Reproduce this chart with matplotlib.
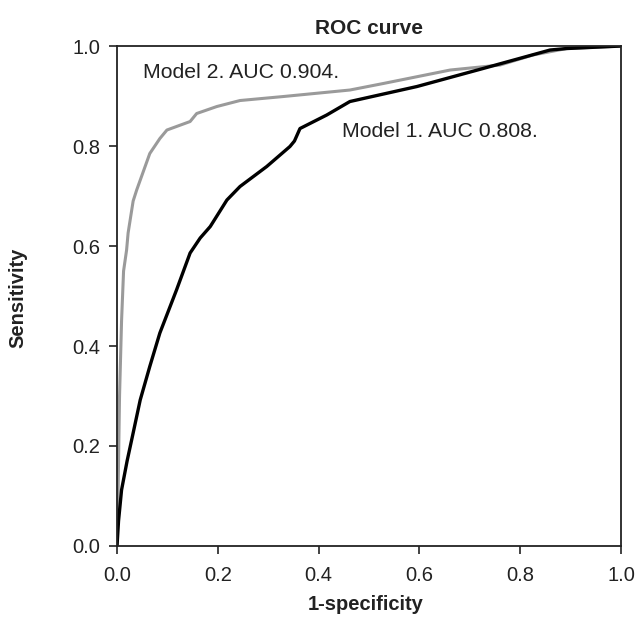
import matplotlib
matplotlib.use("Agg")
import matplotlib.pyplot as plt

plt.rcParams['font.family'] = ['Liberation Sans', 'DejaVu Sans']

model1_fpr = [0.0, 0.003, 0.009, 0.02, 0.032, 0.046, 0.065, 0.085, 0.118, 0.145, 0.165, 0.185,
              0.218, 0.244, 0.297, 0.343, 0.352, 0.363, 0.416, 0.462, 0.595, 0.726, 0.859, 0.892, 1.0]
model1_tpr = [0.0, 0.05, 0.112, 0.17, 0.226, 0.292, 0.359, 0.426, 0.512, 0.586, 0.616, 0.639,
              0.692, 0.719, 0.759, 0.799, 0.81, 0.835, 0.862, 0.889, 0.919, 0.955, 0.992, 0.995, 1.0]

model2_fpr = [0.0, 0.002, 0.005, 0.009, 0.013, 0.019, 0.022, 0.032, 0.039, 0.065, 0.085, 0.099,
              0.145, 0.158, 0.198, 0.244, 0.330, 0.462, 0.528, 0.661, 0.760, 0.825, 0.892, 1.0]
model2_tpr = [0.0, 0.1, 0.3, 0.45, 0.55, 0.592, 0.626, 0.69, 0.712, 0.785, 0.815, 0.832,
              0.849, 0.865, 0.879, 0.891, 0.899, 0.912, 0.925, 0.952, 0.962, 0.982, 0.995, 1.0]

labels = ["Model 2. AUC 0.904.", "Model 1. AUC 0.808."]
ticks = [0.0, 0.2, 0.4, 0.6, 0.8, 1.0]

fig = plt.figure(figsize=(6.37, 6.17), dpi=100)
ax = fig.add_axes([0.1837, 0.1151, 0.7913, 0.8103])

ax.plot(model2_fpr, model2_tpr, color='#9a9a9a', lw=2.2, solid_joinstyle='round')
ax.plot(model1_fpr, model1_tpr, color='black', lw=2.4, solid_joinstyle='round')

ax.text(0.052, 0.948, labels[0], fontsize=15.3, va='center', ha='left', color='#222222')
ax.text(0.446, 0.83, labels[1], fontsize=15.3, va='center', ha='left', color='#222222')

ax.set_xlim(0, 1)
ax.set_ylim(0, 1)
ax.set_xticks(ticks)
ax.set_yticks(ticks)
ax.set_xticklabels([f"{t:.1f}" for t in ticks], fontsize=14.5)
ax.set_yticklabels([f"{t:.1f}" for t in ticks], fontsize=14.5)
ax.tick_params(direction='out', length=6, width=1.2, colors='#222222', pad=6)
ax.tick_params(axis='x', pad=8.5)
for s in ax.spines.values():
    s.set_linewidth(1.3)
    s.set_color('#222222')

fig.text(0.5794, 1 - 28 / 617, "ROC curve", fontsize=15, fontweight='bold',
         ha='center', va='center', color='#222222')
fig.text(366 / 637, 1 - 605 / 617, "1-specificity", fontsize=14.5, fontweight='bold',
         ha='center', va='center', color='#222222')
fig.text(18 / 637, 1 - 298 / 617, "Sensitivity", fontsize=14.5, fontweight='bold',
         ha='center', va='center', rotation=90, color='#222222')

fig.savefig("out.png", dpi=100)
